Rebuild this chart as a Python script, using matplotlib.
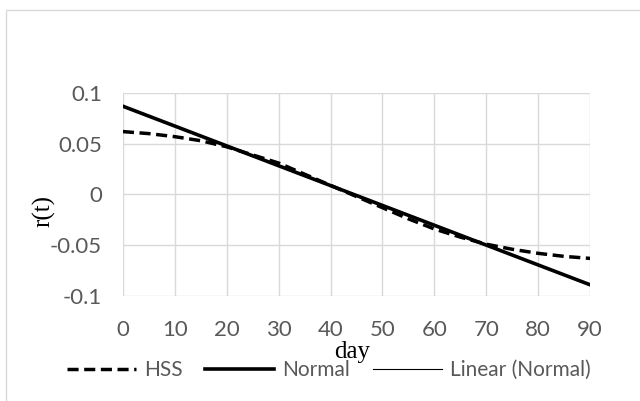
import matplotlib
matplotlib.use("Agg")
import numpy as np
import matplotlib.pyplot as plt
from matplotlib.lines import Line2D
from matplotlib.patches import Rectangle

# day values
days = [0, 5, 10, 15, 20, 25, 30, 35, 40, 45, 50, 55, 60, 65, 70, 75, 80, 85, 90]

# HSS curve
hss = [0.062, 0.060, 0.057, 0.053, 0.047, 0.039, 0.031, 0.020, 0.009, -0.002,
       -0.013, -0.024, -0.034, -0.042, -0.049, -0.054, -0.058, -0.061, -0.063]

# Normal is a straight line
normal_days = [0, 90]
normal = [0.087, -0.089]

xticks = [0, 10, 20, 30, 40, 50, 60, 70, 80, 90]
yticks = [-0.1, -0.05, 0, 0.05, 0.1]
ytick_labels = ["-0.1", "-0.05", "0", "0.05", "0.1"]

tick_font = "Lato"
grey = "#595959"
gridc = "#d9d9d9"
dash = (0, (3.2, 1.6))

fig = plt.figure(figsize=(6.4, 4.01), dpi=100)
ax = fig.add_axes([0.192, 0.262, 0.73, 0.506])

# chart border (only left and top visible in crop)
fig.add_artist(Rectangle((6 / 640, -0.1), 1.2, 1 - 10 / 401 + 0.1,
                         transform=fig.transFigure, fill=False,
                         edgecolor=gridc, linewidth=1))

ax.plot(days, hss, color="black", linewidth=2.5, linestyle=dash)
ax.plot(normal_days, normal, color="black", linewidth=2.6)
ax.plot(normal_days, normal, color="black", linewidth=0.8)

ax.set_xlim(0, 90)
ax.set_ylim(-0.1, 0.1)
ax.set_xticks(xticks)
ax.set_yticks(yticks)
ax.set_yticklabels(ytick_labels)
ax.grid(True, color=gridc, linewidth=1)
ax.set_axisbelow(True)
for s in ax.spines.values():
    s.set_visible(False)
ax.tick_params(length=0, colors=grey, labelsize=16)
ax.tick_params(axis="x", pad=17)
ax.tick_params(axis="y", pad=15)
for lab in ax.get_xticklabels() + ax.get_yticklabels():
    lab.set_fontfamily(tick_font)

fig.text(352 / 640, 1 - 352 / 401, "day", ha="center", va="center",
         family="Liberation Serif", fontsize=18, color="black")
fig.text(44 / 640, 1 - 211 / 401, "r(t)", ha="center", va="center",
         rotation=90, family="Liberation Serif", fontsize=18, color="black")

handles = [Line2D([], [], color="black", linewidth=2.5, linestyle=dash),
           Line2D([], [], color="black", linewidth=2.6),
           Line2D([], [], color="black", linewidth=0.8)]
leg = fig.legend(handles, ["HSS", "Normal", "Linear (Normal)"], loc="center",
                 bbox_to_anchor=(329 / 640, 1 - 370 / 401), ncol=3, frameon=False,
                 handlelength=3.3, handletextpad=0.4, columnspacing=1.1,
                 prop={"family": tick_font, "size": 15})
for t in leg.get_texts():
    t.set_color(grey)

fig.savefig("out.png", dpi=100)
